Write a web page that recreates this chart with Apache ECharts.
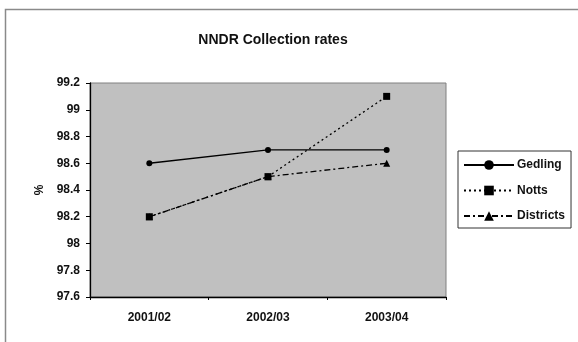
<!DOCTYPE html>
<html><head><meta charset="utf-8">
<script src="https://cdn.jsdelivr.net/npm/echarts@6/dist/echarts.min.js"></script>
<style>html,body{margin:0;padding:0;background:#fff}#c{width:578px;height:342px}</style>
</head><body><div id="c"></div>
<script>
var categories = ['2001/02', '2002/03', '2003/04'];
var gedling = [98.6, 98.7, 98.7];
var notts = [98.2, 98.5, 99.1];
var districts = [98.2, 98.5, 98.6];
var yMin = 97.6, yMax = 99.2, yStep = 0.2;

var chart = echarts.init(document.getElementById('c'), null, {renderer: 'canvas'});
var F = 'Liberation Sans, Arial, sans-serif';
chart.setOption({
  animation: false,
  backgroundColor: '#fff',
  graphic: [{type: 'rect', shape: {x: 5.5, y: 9.5, width: 620, height: 400},
    style: {fill: 'none', stroke: '#8a8a8a', lineWidth: 1.5}, z: -1}],
  title: {text: 'NNDR Collection rates', left: 268, top: 28, textAlign: 'center',
    textStyle: {fontFamily: F, fontSize: 14, fontWeight: 'bold', color: '#111'}},
  grid: {left: 90, top: 83, width: 356, height: 214, show: true,
    backgroundColor: '#c0c0c0', borderColor: '#808080', borderWidth: 1},
  legend: {orient: 'vertical', left: 458, top: 151, itemWidth: 50, itemHeight: 12, itemGap: 13.5,
    padding: [8, 6, 6, 5], borderColor: '#333', borderWidth: 1,
    textStyle: {fontFamily: F, fontSize: 12, fontWeight: 'bold', color: '#111', padding: [0, 0, 0, -2]},
    data: ['Gedling', 'Notts', 'Districts']},
  xAxis: {type: 'category', data: categories, boundaryGap: true,
    axisLine: {lineStyle: {color: '#000', width: 1.3}},
    axisTick: {show: true, length: 3, lineStyle: {color: '#000'}},
    axisLabel: {fontFamily: F, fontSize: 12, fontWeight: 'bold', color: '#111', margin: 15},
    splitLine: {show: false}},
  yAxis: {type: 'value', min: yMin, max: yMax, interval: yStep, name: '%', nameLocation: 'middle',
    nameGap: 41, nameRotate: 90,
    nameTextStyle: {fontFamily: F, fontSize: 12, fontWeight: 'bold', color: '#111'},
    axisLine: {show: true, lineStyle: {color: '#000', width: 1.3}},
    axisTick: {show: true, length: 4, lineStyle: {color: '#000'}},
    axisLabel: {fontFamily: F, fontSize: 12, fontWeight: 'bold', color: '#111', margin: 10,
      formatter: function (v) { return String(Math.round(v * 10) / 10); }},
    splitLine: {show: false}},
  series: [
    {name: 'Gedling', type: 'line', data: gedling, symbol: 'circle', symbolSize: 6,
      lineStyle: {color: '#000', width: 1.3, type: 'solid'}, itemStyle: {color: '#000'}},
    {name: 'Notts', type: 'line', data: notts, symbol: 'rect', symbolSize: 7,
      lineStyle: {color: '#000', width: 1.3, type: [2, 3]}, itemStyle: {color: '#000'}},
    {name: 'Districts', type: 'line', data: districts, symbol: 'triangle', symbolSize: 7,
      lineStyle: {color: '#000', width: 1.3, type: [6, 3, 2, 3]}, itemStyle: {color: '#000'}}
  ]
});
</script></body></html>
